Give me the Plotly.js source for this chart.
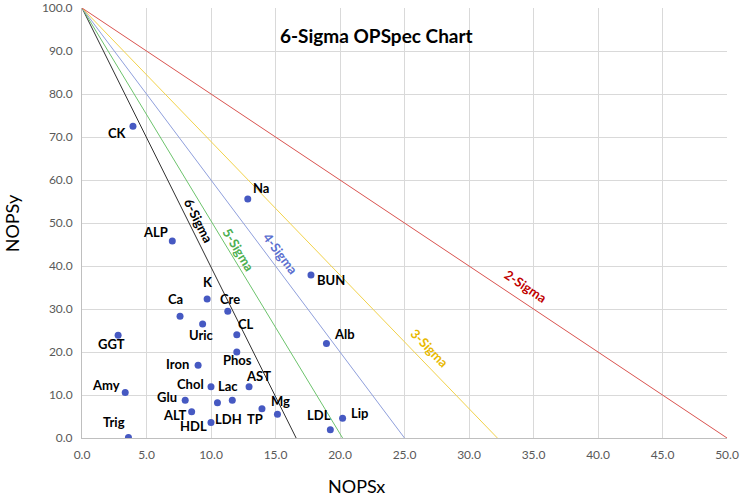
<!DOCTYPE html>
<html>
<head>
<meta charset="utf-8">
<script src="https://cdn.plot.ly/plotly-3.0.1.min.js"></script>
<style>
  html, body { margin: 0; padding: 0; background: #fff; }
  #canvas_div { width: 740px; height: 499px; }
</style>
</head>
<body>
<div id="canvas_div"></div>
<script>
// analytes
var analytes = ["CK", "Na", "ALP", "K", "Ca", "Cre", "Uric", "CL", "GGT", "Phos",
  "Iron", "Amy", "Chol", "Lac", "AST", "Glu", "LDH", "ALT", "HDL", "TP", "Mg",
  "Trig", "LDL", "Lip", "Alb", "BUN"];
var nopsx = [3.95, 12.85, 7.0, 9.7, 7.6, 11.3, 9.35, 12.0, 2.8, 12.0,
  9.0, 3.35, 10.0, 11.65, 12.95, 8.0, 10.5, 8.5, 10.0, 13.95, 15.15,
  3.6, 19.25, 20.2, 18.95, 17.75];
var nopsy = [72.5, 55.6, 45.8, 32.3, 28.3, 29.5, 26.5, 24.0, 23.9, 20.0,
  16.9, 10.6, 11.9, 8.8, 11.9, 8.8, 8.2, 6.1, 3.6, 6.8, 5.5,
  0.1, 1.9, 4.6, 22.0, 37.9];

// sigma lines run from (0, 100) down to their x-intercept
var sigmaNames = ["6-Sigma", "5-Sigma", "4-Sigma", "3-Sigma", "2-Sigma"];
var sigmaIntercepts = [16.6, 20.2, 25.0, 32.2, 50.0];

// styling / label placement (pixels), kept apart from the data
var sigmaColors = ["#303030", "#6cc36c", "#8f9fdc", "#f2d24a", "#d9534f"];
var sigmaTextColors = ["#000000", "#4caf50", "#5b6fcf", "#e8b900", "#c00000"];
var sigmaLabelT = [0.505, 0.573, 0.586, 0.813, 0.675];  // fraction along the line
var sigmaLabelD = [9.7, 8.8, 11.4, 13.9, 14.6];         // px off the line
var labelDx = [-15.5, 13, -17, 0.7, -4.2, 2, -1, 9.3, -6.6, 0.8,
  -21, -19.5, -20.2, -4.4, 9.7, -18.6, 10.8, -16.2, -17.8, -6.8, 2.7,
  -14, -11.5, 17.2, 18.3, 20.2];
var labelDy = [6.7, -11, -9, -17, -17.6, -12.3, 11.3, -11, 9, 8,
  -1.3, -7.3, -3.2, -14.2, -11, -3.3, 16, 2.8, 3.9, 10, -13.5,
  -15.2, -15, -4.8, -9.5, 5];

var FONT = "Lato, 'Open Sans', sans-serif";
var PLOT_W = 645, PLOT_H = 430;

var data = [];
var annotations = [];
var i;
for (i = 0; i < sigmaNames.length; i++) {
  data.push({
    x: [0, sigmaIntercepts[i]],
    y: [100, 0],
    mode: "lines",
    line: { color: sigmaColors[i], width: 1 },
    hoverinfo: "skip",
    showlegend: false
  });

  // rotate the name to follow the line on screen
  var a = Math.atan(PLOT_H / (sigmaIntercepts[i] / 50 * PLOT_W));
  var t = sigmaLabelT[i];
  annotations.push({
    x: sigmaIntercepts[i] * t,
    y: 100 * (1 - t),
    xref: "x",
    yref: "y",
    text: "<b>" + sigmaNames[i] + "</b>",
    showarrow: false,
    textangle: a * 180 / Math.PI,
    font: { family: FONT, size: 13, color: sigmaTextColors[i] },
    xshift: sigmaLabelD[i] * Math.sin(a),
    yshift: sigmaLabelD[i] * Math.cos(a)
  });
}

data.push({
  x: nopsx,
  y: nopsy,
  mode: "markers",
  marker: { color: "#4659c2", size: 7 },
  showlegend: false
});

for (i = 0; i < analytes.length; i++) {
  annotations.push({
    x: nopsx[i],
    y: nopsy[i],
    xref: "x",
    yref: "y",
    text: "<b>" + analytes[i] + "</b>",
    showarrow: false,
    xshift: labelDx[i],
    yshift: -labelDy[i],
    font: { family: FONT, size: 13, color: "#000000" }
  });
}

annotations.push({
  x: 0.456, y: 0.937, xref: "paper", yref: "paper",
  xanchor: "center", yanchor: "middle",
  text: "<b>6-Sigma OPSpec Chart</b>",
  showarrow: false,
  font: { family: FONT, size: 19, color: "#000000" }
});
annotations.push({
  x: 0.425, y: -0.112, xref: "paper", yref: "paper",
  xanchor: "center", yanchor: "middle",
  text: "NOPSx",
  showarrow: false,
  font: { family: FONT, size: 18, color: "#000000" }
});
annotations.push({
  x: -0.108, y: 0.5, xref: "paper", yref: "paper",
  xanchor: "center", yanchor: "middle",
  text: "NOPSy",
  textangle: -90,
  showarrow: false,
  font: { family: FONT, size: 18, color: "#000000" }
});

var layout = {
  width: 740,
  height: 499,
  margin: { l: 82, r: 13, t: 8, b: 61 },
  paper_bgcolor: "#ffffff",
  plot_bgcolor: "#ffffff",
  showlegend: false,
  xaxis: {
    range: [0, 50],
    dtick: 5,
    tickformat: ".1f",
    showgrid: true,
    gridcolor: "#d9d9d9",
    zeroline: false,
    showline: true,
    linecolor: "#bfbfbf",
    ticks: "",
    ticklabelstandoff: 6,
    tickfont: { family: FONT, size: 12, color: "#595959" }
  },
  yaxis: {
    range: [0, 100],
    dtick: 10,
    tickformat: ".1f",
    showgrid: true,
    gridcolor: "#d9d9d9",
    zeroline: false,
    showline: true,
    linecolor: "#bfbfbf",
    ticks: "",
    ticklabelstandoff: 6,
    tickfont: { family: FONT, size: 12, color: "#595959" }
  },
  annotations: annotations
};

Plotly.newPlot("canvas_div", data, layout, { displayModeBar: false, staticPlot: true });
</script>
</body>
</html>
